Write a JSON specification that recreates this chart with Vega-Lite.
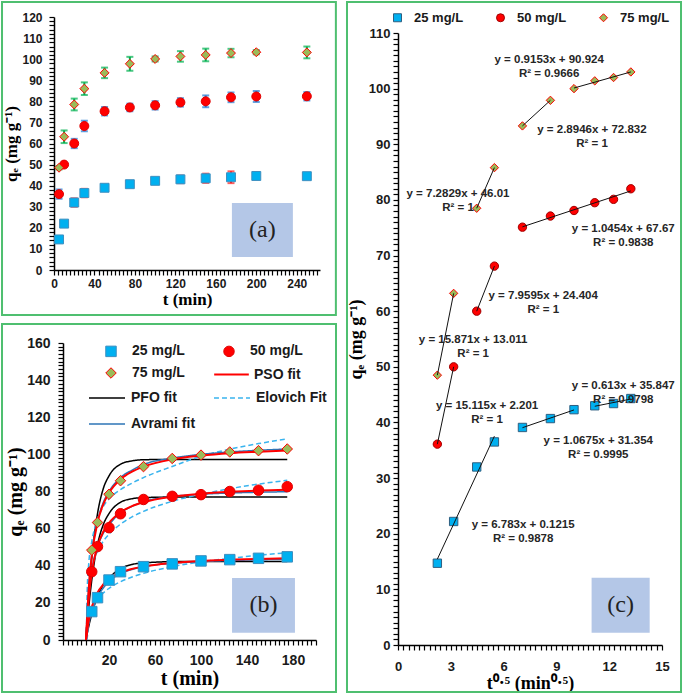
{
"$schema": "https://vega.github.io/schema/vega-lite/v6.json",
"width": 685, "height": 696,
"autosize": {"type": "none"},
"padding": 0,
"background": "white",
"config": {
  "view": {"stroke": null},
  "axis": {"grid": false, "domainColor": "#000", "domainWidth": 1.5, "tickColor": "#000", "tickSize": 5, "tickWidth": 1.2,
    "labelFont": "Liberation Sans", "labelFontWeight": "bold", "labelColor": "#1a1a1a",
    "titleFont": "Liberation Serif", "titleFontWeight": "bold", "titleColor": "#000",
    "labelOverlap": false, "labelFlush": false, "labelBound": false},
  "legend": {"labelFont": "Liberation Sans", "labelFontWeight": "bold", "labelColor": "#1a1a1a", "padding": 0},
  "text": {"font": "Liberation Sans"}
},
"datasets": {
  "kinetics": [
    {"conc": "25 mg/L", "t": 5, "q": 14.5, "err": 1.5}, {"conc": "25 mg/L", "t": 10, "q": 22, "err": 0.8}, {"conc": "25 mg/L", "t": 20, "q": 32, "err": 2}, {"conc": "25 mg/L", "t": 30, "q": 36.5, "err": 2}, {"conc": "25 mg/L", "t": 50, "q": 39, "err": 1}, {"conc": "25 mg/L", "t": 75, "q": 40.7, "err": 0.5}, {"conc": "25 mg/L", "t": 100, "q": 42.3, "err": 0.8}, {"conc": "25 mg/L", "t": 125, "q": 43, "err": 1.8}, {"conc": "25 mg/L", "t": 150, "q": 43.5, "err": 2.2}, {"conc": "25 mg/L", "t": 175, "q": 44, "err": 2.8}, {"conc": "25 mg/L", "t": 200, "q": 44.6, "err": 1}, {"conc": "25 mg/L", "t": 250, "q": 44.5, "err": 0.8},
    {"conc": "50 mg/L", "t": 5, "q": 36, "err": 2.2}, {"conc": "50 mg/L", "t": 10, "q": 50, "err": 1}, {"conc": "50 mg/L", "t": 20, "q": 60, "err": 2.2}, {"conc": "50 mg/L", "t": 30, "q": 68.3, "err": 2.5}, {"conc": "50 mg/L", "t": 50, "q": 75.3, "err": 2}, {"conc": "50 mg/L", "t": 75, "q": 77.1, "err": 1.8}, {"conc": "50 mg/L", "t": 100, "q": 78.1, "err": 2}, {"conc": "50 mg/L", "t": 125, "q": 79.5, "err": 2}, {"conc": "50 mg/L", "t": 150, "q": 80, "err": 2.8}, {"conc": "50 mg/L", "t": 175, "q": 81.9, "err": 2.3}, {"conc": "50 mg/L", "t": 200, "q": 82.3, "err": 2.6}, {"conc": "50 mg/L", "t": 250, "q": 82.4, "err": 2},
    {"conc": "75 mg/L", "t": 5, "q": 48.5, "err": 0.8}, {"conc": "75 mg/L", "t": 10, "q": 63.2, "err": 3}, {"conc": "75 mg/L", "t": 20, "q": 78.5, "err": 2.8}, {"conc": "75 mg/L", "t": 30, "q": 86, "err": 3}, {"conc": "75 mg/L", "t": 50, "q": 93.5, "err": 2.5}, {"conc": "75 mg/L", "t": 75, "q": 97.8, "err": 3.3}, {"conc": "75 mg/L", "t": 100, "q": 100.1, "err": 1.2}, {"conc": "75 mg/L", "t": 125, "q": 101.3, "err": 2.5}, {"conc": "75 mg/L", "t": 150, "q": 102, "err": 3}, {"conc": "75 mg/L", "t": 175, "q": 102.9, "err": 2}, {"conc": "75 mg/L", "t": 200, "q": 103.3, "err": 1}, {"conc": "75 mg/L", "t": 250, "q": 103.2, "err": 2.8}
  ],
  "fitPoints": [
    {"key": "25 mg/L", "t": 5, "q": 15.3}, {"key": "25 mg/L", "t": 10, "q": 22.8}, {"key": "25 mg/L", "t": 20, "q": 32.3}, {"key": "25 mg/L", "t": 30, "q": 36.8}, {"key": "25 mg/L", "t": 50, "q": 39.5}, {"key": "25 mg/L", "t": 75, "q": 41}, {"key": "25 mg/L", "t": 100, "q": 42.6}, {"key": "25 mg/L", "t": 125, "q": 43.3}, {"key": "25 mg/L", "t": 150, "q": 44}, {"key": "25 mg/L", "t": 175, "q": 44.8},
    {"key": "50 mg/L", "t": 5, "q": 36.8}, {"key": "50 mg/L", "t": 10, "q": 50.3}, {"key": "50 mg/L", "t": 20, "q": 60.5}, {"key": "50 mg/L", "t": 30, "q": 68}, {"key": "50 mg/L", "t": 50, "q": 75.7}, {"key": "50 mg/L", "t": 75, "q": 77.4}, {"key": "50 mg/L", "t": 100, "q": 78.3}, {"key": "50 mg/L", "t": 125, "q": 80}, {"key": "50 mg/L", "t": 150, "q": 80.7}, {"key": "50 mg/L", "t": 175, "q": 82.6},
    {"key": "75 mg/L", "t": 5, "q": 48.4}, {"key": "75 mg/L", "t": 10, "q": 63.3}, {"key": "75 mg/L", "t": 20, "q": 78.5}, {"key": "75 mg/L", "t": 30, "q": 85.8}, {"key": "75 mg/L", "t": 50, "q": 93.4}, {"key": "75 mg/L", "t": 75, "q": 97.8}, {"key": "75 mg/L", "t": 100, "q": 99.6}, {"key": "75 mg/L", "t": 125, "q": 101.3}, {"key": "75 mg/L", "t": 150, "q": 102}, {"key": "75 mg/L", "t": 175, "q": 102.9}
  ],
  "fits": [
    {"key": "PFO fit", "conc": "25", "t": 0, "q": 0}, {"key": "PFO fit", "conc": "25", "t": 2.5, "q": 7.7}, {"key": "PFO fit", "conc": "25", "t": 5, "q": 13.9}, {"key": "PFO fit", "conc": "25", "t": 10, "q": 23.3}, {"key": "PFO fit", "conc": "25", "t": 15, "q": 29.6}, {"key": "PFO fit", "conc": "25", "t": 20, "q": 33.3}, {"key": "PFO fit", "conc": "25", "t": 30, "q": 38.5}, {"key": "PFO fit", "conc": "25", "t": 40, "q": 40.7}, {"key": "PFO fit", "conc": "25", "t": 50, "q": 41.5}, {"key": "PFO fit", "conc": "25", "t": 75, "q": 42.2}, {"key": "PFO fit", "conc": "25", "t": 100, "q": 42.3}, {"key": "PFO fit", "conc": "25", "t": 175, "q": 42.3},
    {"key": "PFO fit", "conc": "50", "t": 0, "q": 0}, {"key": "PFO fit", "conc": "50", "t": 2.5, "q": 18.3}, {"key": "PFO fit", "conc": "50", "t": 5, "q": 32.1}, {"key": "PFO fit", "conc": "50", "t": 10, "q": 51.3}, {"key": "PFO fit", "conc": "50", "t": 15, "q": 62.1}, {"key": "PFO fit", "conc": "50", "t": 20, "q": 68.1}, {"key": "PFO fit", "conc": "50", "t": 30, "q": 74.2}, {"key": "PFO fit", "conc": "50", "t": 40, "q": 76.1}, {"key": "PFO fit", "conc": "50", "t": 50, "q": 76.7}, {"key": "PFO fit", "conc": "50", "t": 75, "q": 77}, {"key": "PFO fit", "conc": "50", "t": 100, "q": 77}, {"key": "PFO fit", "conc": "50", "t": 175, "q": 77},
    {"key": "PFO fit", "conc": "75", "t": 0, "q": 0}, {"key": "PFO fit", "conc": "75", "t": 2.5, "q": 25.3}, {"key": "PFO fit", "conc": "75", "t": 5, "q": 44}, {"key": "PFO fit", "conc": "75", "t": 10, "q": 68}, {"key": "PFO fit", "conc": "75", "t": 15, "q": 81.5}, {"key": "PFO fit", "conc": "75", "t": 20, "q": 88.4}, {"key": "PFO fit", "conc": "75", "t": 30, "q": 94.7}, {"key": "PFO fit", "conc": "75", "t": 40, "q": 96.5}, {"key": "PFO fit", "conc": "75", "t": 50, "q": 97.1}, {"key": "PFO fit", "conc": "75", "t": 75, "q": 97.3}, {"key": "PFO fit", "conc": "75", "t": 100, "q": 97.3}, {"key": "PFO fit", "conc": "75", "t": 175, "q": 97.3},
    {"key": "Elovich Fit", "conc": "25", "t": 0.9, "q": 0}, {"key": "Elovich Fit", "conc": "25", "t": 2.5, "q": 9.4}, {"key": "Elovich Fit", "conc": "25", "t": 5, "q": 15.5}, {"key": "Elovich Fit", "conc": "25", "t": 10, "q": 21.7}, {"key": "Elovich Fit", "conc": "25", "t": 15, "q": 25.3}, {"key": "Elovich Fit", "conc": "25", "t": 20, "q": 27.8}, {"key": "Elovich Fit", "conc": "25", "t": 30, "q": 31.4}, {"key": "Elovich Fit", "conc": "25", "t": 40, "q": 33.9}, {"key": "Elovich Fit", "conc": "25", "t": 50, "q": 35.9}, {"key": "Elovich Fit", "conc": "25", "t": 75, "q": 39.5}, {"key": "Elovich Fit", "conc": "25", "t": 100, "q": 42.1}, {"key": "Elovich Fit", "conc": "25", "t": 125, "q": 44}, {"key": "Elovich Fit", "conc": "25", "t": 150, "q": 45.6}, {"key": "Elovich Fit", "conc": "25", "t": 175, "q": 47},
    {"key": "Elovich Fit", "conc": "50", "t": 0.3, "q": 0}, {"key": "Elovich Fit", "conc": "50", "t": 1, "q": 17}, {"key": "Elovich Fit", "conc": "50", "t": 2.5, "q": 29.2}, {"key": "Elovich Fit", "conc": "50", "t": 5, "q": 38.5}, {"key": "Elovich Fit", "conc": "50", "t": 10, "q": 47.7}, {"key": "Elovich Fit", "conc": "50", "t": 15, "q": 53.2}, {"key": "Elovich Fit", "conc": "50", "t": 20, "q": 57}, {"key": "Elovich Fit", "conc": "50", "t": 30, "q": 62.4}, {"key": "Elovich Fit", "conc": "50", "t": 40, "q": 66.3}, {"key": "Elovich Fit", "conc": "50", "t": 50, "q": 69.3}, {"key": "Elovich Fit", "conc": "50", "t": 75, "q": 74.7}, {"key": "Elovich Fit", "conc": "50", "t": 100, "q": 78.5}, {"key": "Elovich Fit", "conc": "50", "t": 125, "q": 81.5}, {"key": "Elovich Fit", "conc": "50", "t": 150, "q": 84}, {"key": "Elovich Fit", "conc": "50", "t": 175, "q": 86},
    {"key": "Elovich Fit", "conc": "75", "t": 0.3, "q": 0}, {"key": "Elovich Fit", "conc": "75", "t": 1, "q": 26}, {"key": "Elovich Fit", "conc": "75", "t": 2.5, "q": 42}, {"key": "Elovich Fit", "conc": "75", "t": 5, "q": 53}, {"key": "Elovich Fit", "conc": "75", "t": 10, "q": 65}, {"key": "Elovich Fit", "conc": "75", "t": 15, "q": 72}, {"key": "Elovich Fit", "conc": "75", "t": 20, "q": 76}, {"key": "Elovich Fit", "conc": "75", "t": 30, "q": 81}, {"key": "Elovich Fit", "conc": "75", "t": 40, "q": 84.5}, {"key": "Elovich Fit", "conc": "75", "t": 50, "q": 87.5}, {"key": "Elovich Fit", "conc": "75", "t": 75, "q": 93.5}, {"key": "Elovich Fit", "conc": "75", "t": 100, "q": 99}, {"key": "Elovich Fit", "conc": "75", "t": 125, "q": 102.8}, {"key": "Elovich Fit", "conc": "75", "t": 150, "q": 105.8}, {"key": "Elovich Fit", "conc": "75", "t": 175, "q": 108.3},
    {"key": "PSO fit", "conc": "25", "t": 0, "q": 0}, {"key": "PSO fit", "conc": "25", "t": 2.5, "q": 10.9}, {"key": "PSO fit", "conc": "25", "t": 5, "q": 17.6}, {"key": "PSO fit", "conc": "25", "t": 10, "q": 25.5}, {"key": "PSO fit", "conc": "25", "t": 15, "q": 29.9}, {"key": "PSO fit", "conc": "25", "t": 20, "q": 32.8}, {"key": "PSO fit", "conc": "25", "t": 30, "q": 36.3}, {"key": "PSO fit", "conc": "25", "t": 40, "q": 38.3}, {"key": "PSO fit", "conc": "25", "t": 50, "q": 39.6}, {"key": "PSO fit", "conc": "25", "t": 75, "q": 41.5}, {"key": "PSO fit", "conc": "25", "t": 100, "q": 42.6}, {"key": "PSO fit", "conc": "25", "t": 125, "q": 43.2}, {"key": "PSO fit", "conc": "25", "t": 150, "q": 43.7}, {"key": "PSO fit", "conc": "25", "t": 175, "q": 44},
    {"key": "PSO fit", "conc": "50", "t": 0, "q": 0}, {"key": "PSO fit", "conc": "50", "t": 2.5, "q": 23}, {"key": "PSO fit", "conc": "50", "t": 5, "q": 36.2}, {"key": "PSO fit", "conc": "50", "t": 10, "q": 50.6}, {"key": "PSO fit", "conc": "50", "t": 15, "q": 58.3}, {"key": "PSO fit", "conc": "50", "t": 20, "q": 63.1}, {"key": "PSO fit", "conc": "50", "t": 30, "q": 68.8}, {"key": "PSO fit", "conc": "50", "t": 40, "q": 72.1}, {"key": "PSO fit", "conc": "50", "t": 50, "q": 74.2}, {"key": "PSO fit", "conc": "50", "t": 75, "q": 77.2}, {"key": "PSO fit", "conc": "50", "t": 100, "q": 78.8}, {"key": "PSO fit", "conc": "50", "t": 125, "q": 79.8}, {"key": "PSO fit", "conc": "50", "t": 150, "q": 80.5}, {"key": "PSO fit", "conc": "50", "t": 175, "q": 80.9},
    {"key": "PSO fit", "conc": "75", "t": 0, "q": 0}, {"key": "PSO fit", "conc": "75", "t": 2.5, "q": 28.7}, {"key": "PSO fit", "conc": "75", "t": 5, "q": 45.2}, {"key": "PSO fit", "conc": "75", "t": 10, "q": 63.3}, {"key": "PSO fit", "conc": "75", "t": 15, "q": 73.1}, {"key": "PSO fit", "conc": "75", "t": 20, "q": 79.3}, {"key": "PSO fit", "conc": "75", "t": 30, "q": 86.6}, {"key": "PSO fit", "conc": "75", "t": 40, "q": 90.7}, {"key": "PSO fit", "conc": "75", "t": 50, "q": 93.4}, {"key": "PSO fit", "conc": "75", "t": 75, "q": 97.3}, {"key": "PSO fit", "conc": "75", "t": 100, "q": 99.3}, {"key": "PSO fit", "conc": "75", "t": 125, "q": 100.6}, {"key": "PSO fit", "conc": "75", "t": 150, "q": 101.4}, {"key": "PSO fit", "conc": "75", "t": 175, "q": 102.1},
    {"key": "Avrami fit", "conc": "25", "t": 0, "q": 0}, {"key": "Avrami fit", "conc": "25", "t": 2.5, "q": 9}, {"key": "Avrami fit", "conc": "25", "t": 5, "q": 15}, {"key": "Avrami fit", "conc": "25", "t": 10, "q": 23}, {"key": "Avrami fit", "conc": "25", "t": 15, "q": 28}, {"key": "Avrami fit", "conc": "25", "t": 20, "q": 31.5}, {"key": "Avrami fit", "conc": "25", "t": 30, "q": 35.8}, {"key": "Avrami fit", "conc": "25", "t": 40, "q": 38}, {"key": "Avrami fit", "conc": "25", "t": 50, "q": 39.5}, {"key": "Avrami fit", "conc": "25", "t": 75, "q": 41.3}, {"key": "Avrami fit", "conc": "25", "t": 100, "q": 42.2}, {"key": "Avrami fit", "conc": "25", "t": 125, "q": 42.8}, {"key": "Avrami fit", "conc": "25", "t": 150, "q": 43.2}, {"key": "Avrami fit", "conc": "25", "t": 175, "q": 43.5},
    {"key": "Avrami fit", "conc": "50", "t": 0, "q": 0}, {"key": "Avrami fit", "conc": "50", "t": 2.5, "q": 24}, {"key": "Avrami fit", "conc": "50", "t": 5, "q": 37}, {"key": "Avrami fit", "conc": "50", "t": 10, "q": 50}, {"key": "Avrami fit", "conc": "50", "t": 15, "q": 57.5}, {"key": "Avrami fit", "conc": "50", "t": 20, "q": 62}, {"key": "Avrami fit", "conc": "50", "t": 30, "q": 68.5}, {"key": "Avrami fit", "conc": "50", "t": 40, "q": 72}, {"key": "Avrami fit", "conc": "50", "t": 50, "q": 74.5}, {"key": "Avrami fit", "conc": "50", "t": 75, "q": 77.3}, {"key": "Avrami fit", "conc": "50", "t": 100, "q": 78.5}, {"key": "Avrami fit", "conc": "50", "t": 125, "q": 79.2}, {"key": "Avrami fit", "conc": "50", "t": 150, "q": 79.6}, {"key": "Avrami fit", "conc": "50", "t": 175, "q": 79.9},
    {"key": "Avrami fit", "conc": "75", "t": 0, "q": 0}, {"key": "Avrami fit", "conc": "75", "t": 2.5, "q": 29}, {"key": "Avrami fit", "conc": "75", "t": 5, "q": 46}, {"key": "Avrami fit", "conc": "75", "t": 10, "q": 64}, {"key": "Avrami fit", "conc": "75", "t": 15, "q": 74}, {"key": "Avrami fit", "conc": "75", "t": 20, "q": 80}, {"key": "Avrami fit", "conc": "75", "t": 30, "q": 87.5}, {"key": "Avrami fit", "conc": "75", "t": 40, "q": 91.5}, {"key": "Avrami fit", "conc": "75", "t": 50, "q": 94.5}, {"key": "Avrami fit", "conc": "75", "t": 75, "q": 98}, {"key": "Avrami fit", "conc": "75", "t": 100, "q": 100}, {"key": "Avrami fit", "conc": "75", "t": 125, "q": 101.3}, {"key": "Avrami fit", "conc": "75", "t": 150, "q": 102.2}, {"key": "Avrami fit", "conc": "75", "t": 175, "q": 102.9}
  ],
  "ipd": [
    {"conc": "25 mg/L", "seg": "25a", "x": 2.236, "q": 14.7}, {"conc": "25 mg/L", "seg": "25a", "x": 3.162, "q": 22.2}, {"conc": "25 mg/L", "seg": "25a", "x": 4.472, "q": 32}, {"conc": "25 mg/L", "seg": "25a", "x": 5.477, "q": 36.5},
    {"conc": "25 mg/L", "seg": "25b", "x": 7.071, "q": 39.1}, {"conc": "25 mg/L", "seg": "25b", "x": 8.66, "q": 40.7}, {"conc": "25 mg/L", "seg": "25b", "x": 10, "q": 42.3},
    {"conc": "25 mg/L", "seg": "25c", "x": 11.18, "q": 43}, {"conc": "25 mg/L", "seg": "25c", "x": 12.247, "q": 43.4}, {"conc": "25 mg/L", "seg": "25c", "x": 13.229, "q": 44.3},
    {"conc": "50 mg/L", "seg": "50a", "x": 2.236, "q": 36.1}, {"conc": "50 mg/L", "seg": "50a", "x": 3.162, "q": 50},
    {"conc": "50 mg/L", "seg": "50b", "x": 4.472, "q": 60}, {"conc": "50 mg/L", "seg": "50b", "x": 5.477, "q": 68.1},
    {"conc": "50 mg/L", "seg": "50c", "x": 7.071, "q": 75.1}, {"conc": "50 mg/L", "seg": "50c", "x": 8.66, "q": 77.1}, {"conc": "50 mg/L", "seg": "50c", "x": 10, "q": 78.1}, {"conc": "50 mg/L", "seg": "50c", "x": 11.18, "q": 79.5}, {"conc": "50 mg/L", "seg": "50c", "x": 12.247, "q": 80.1}, {"conc": "50 mg/L", "seg": "50c", "x": 13.229, "q": 82},
    {"conc": "75 mg/L", "seg": "75a", "x": 2.236, "q": 48.5}, {"conc": "75 mg/L", "seg": "75a", "x": 3.162, "q": 63.2},
    {"conc": "75 mg/L", "seg": "75b", "x": 4.472, "q": 78.5}, {"conc": "75 mg/L", "seg": "75b", "x": 5.477, "q": 85.8},
    {"conc": "75 mg/L", "seg": "75c", "x": 7.071, "q": 93.3}, {"conc": "75 mg/L", "seg": "75c", "x": 8.66, "q": 97.9},
    {"conc": "75 mg/L", "seg": "75d", "x": 10, "q": 100}, {"conc": "75 mg/L", "seg": "75d", "x": 11.18, "q": 101.4}, {"conc": "75 mg/L", "seg": "75d", "x": 12.247, "q": 102}, {"conc": "75 mg/L", "seg": "75d", "x": 13.229, "q": 103}
  ],
  "eqs": [
    {"x": 8.59, "y": 105.15, "label": "y = 0.9153x + 90.924\nR² = 0.9666"},
    {"x": 11.02, "y": 92.6, "label": "y = 2.8946x + 72.832\nR² = 1"},
    {"x": 3.41, "y": 81.15, "label": "y = 7.2829x + 46.01\nR² = 1"},
    {"x": 12.8, "y": 74.85, "label": "y = 1.0454x + 67.67\nR² = 0.9838"},
    {"x": 8.25, "y": 62.75, "label": "y = 7.9595x + 24.404\nR² = 1"},
    {"x": 4.27, "y": 54.85, "label": "y = 15.871x + 13.011\nR² = 1"},
    {"x": 5.06, "y": 42.9, "label": "y = 15.115x + 2.201\nR² = 1"},
    {"x": 12.8, "y": 46.55, "label": "y = 0.613x + 35.847\nR² = 0.9798"},
    {"x": 11.38, "y": 36.6, "label": "y = 1.0675x + 31.354\nR² = 0.9995"},
    {"x": 7.11, "y": 21.6, "label": "y = 6.783x + 0.1215\nR² = 0.9878"}
  ]
},
"layer": [
  {
    "layer": [
      {
        "data": {"name": "kinetics"},
        "mark": {"type": "errorbar", "ticks": true, "thickness": 2, "size": 7},
        "encoding": {
          "x": {"field": "t", "type": "quantitative", "scale": {"domain": [0, 263], "range": [54, 320], "nice": false, "zero": false},
            "axis": {"title": "t (min)", "orient": "bottom", "offset": -426, "values": [0,4,8,12,16,20,24,28,32,36,40,44,48,52,56,60,64,68,72,76,80,84,88,92,96,100,104,108,112,116,120,124,128,132,136,140,144,148,152,156,160,164,168,172,176,180,184,188,192,196,200,204,208,212,216,220,224,228,232,236,240,244,248,252,256,260],
              "labelExpr": "abs(datum.value / 40 - round(datum.value / 40)) < 0.001 && datum.value <= 240 ? format(datum.value, 'd') : ''", "tickCount": 1000, "ticks": true, "tickSize": 5, "labelOverlap": false, "labelFontSize": 12, "labelPadding": 3, "titleFontSize": 17, "titlePadding": 2}},
          "y": {"field": "q", "type": "quantitative", "scale": {"domain": [0, 120], "range": [270, 17], "nice": false, "zero": false},
            "axis": {"title": "qₑ (mg g⁻¹)", "orient": "left", "offset": -54, "values": [0,2,4,6,8,10,12,14,16,18,20,22,24,26,28,30,32,34,36,38,40,42,44,46,48,50,52,54,56,58,60,62,64,66,68,70,72,74,76,78,80,82,84,86,88,90,92,94,96,98,100,102,104,106,108,110,112,114,116,118,120],
              "labelExpr": "abs(datum.value / 10 - round(datum.value / 10)) < 0.001 ? format(datum.value, 'd') : ''", "tickCount": 1000, "ticks": true, "tickSize": 5, "labelOverlap": false, "labelFontSize": 12, "labelPadding": 7, "titleFontSize": 17, "titlePadding": 1}},
          "yError": {"field": "err"},
          "color": {"field": "conc", "type": "nominal", "scale": {"domain": ["25 mg/L", "50 mg/L", "75 mg/L"], "range": ["#ff1a1a", "#1f78d1", "#00b050"]}, "legend": null}
        }
      },
      {
        "data": {"name": "kinetics"},
        "mark": {"type": "point", "filled": true, "size": 80, "strokeWidth": 1, "opacity": 1},
        "encoding": {
          "x": {"field": "t", "type": "quantitative"},
          "y": {"field": "q", "type": "quantitative"},
          "shape": {"field": "conc", "type": "nominal", "scale": {"domain": ["25 mg/L", "50 mg/L", "75 mg/L"], "range": ["square", "circle", "diamond"]},
            "legend": {"title": null, "orient": "none", "legendX": 76, "legendY": 14, "direction": "horizontal", "labelFontSize": 12, "symbolSize": 72, "labelOffset": 8, "columnPadding": 22, "symbolStrokeWidth": 1}},
          "fill": {"field": "conc", "type": "nominal", "scale": {"domain": ["25 mg/L", "50 mg/L", "75 mg/L"], "range": ["#00b0f0", "#ff0000", "#9bbb59"]}},
          "stroke": {"field": "conc", "type": "nominal", "scale": {"domain": ["25 mg/L", "50 mg/L", "75 mg/L"], "range": ["#3d8fc0", "#e00000", "#ff0000"]}}
        }
      },
      {
        "data": {"values": [{}]},
        "mark": {"type": "rect", "color": "#b4c7e7"},
        "encoding": {"x": {"datum": 175.9, "type": "quantitative"}, "x2": {"datum": 236.2}, "y": {"datum": 6.2, "type": "quantitative"}, "y2": {"datum": 31.8}}
      },
      {
        "data": {"values": [{"label": "(a)"}]},
        "mark": {"type": "text", "font": "Liberation Serif", "fontSize": 24, "color": "#222", "align": "center", "baseline": "middle"},
        "encoding": {"x": {"datum": 206, "type": "quantitative"}, "y": {"datum": 19, "type": "quantitative"}, "text": {"field": "label"}}
      },
      {
        "data": {"values": [{}]},
        "mark": {"type": "rect", "fill": null, "stroke": "#4fbf70", "strokeWidth": 2, "clip": false},
        "encoding": {"x": {"datum": -51.4, "type": "quantitative"}, "x2": {"datum": 278.7}, "y": {"datum": 127.1, "type": "quantitative"}, "y2": {"datum": -21.35}}
      }
    ]
  },
  {
    "layer": [
      {
        "data": {"name": "fits"},
        "transform": [{"filter": "datum.key !== 'PSO fit'"}],
        "mark": {"type": "line", "interpolate": "monotone", "strokeWidth": 1.5},
        "encoding": {
          "x": {"field": "t", "type": "quantitative", "scale": {"domain": [-20, 200], "range": [63, 316], "nice": false, "zero": false},
            "axis": {"title": "t (min)", "orient": "bottom", "offset": -56, "values": [-20,-16,-12,-8,-4,0,4,8,12,16,20,24,28,32,36,40,44,48,52,56,60,64,68,72,76,80,84,88,92,96,100,104,108,112,116,120,124,128,132,136,140,144,148,152,156,160,164,168,172,176,180,184,188,192,196,200],
              "labelExpr": "abs((datum.value + 20) / 40 - round((datum.value + 20) / 40)) < 0.001 && datum.value > 0 ? format(datum.value, 'd') : ''", "tickCount": 1000, "ticks": true, "tickSize": 5, "labelOverlap": false, "labelFontSize": 14, "labelPadding": 8, "titleFontSize": 20, "titlePadding": 1}},
          "y": {"field": "q", "type": "quantitative", "scale": {"domain": [0, 160], "range": [640, 343], "nice": false, "zero": false},
            "axis": {"title": "qₑ (mg g⁻¹)", "orient": "left", "offset": -63, "values": [0,2,4,6,8,10,12,14,16,18,20,22,24,26,28,30,32,34,36,38,40,42,44,46,48,50,52,54,56,58,60,62,64,66,68,70,72,74,76,78,80,82,84,86,88,90,92,94,96,98,100,102,104,106,108,110,112,114,116,118,120,122,124,126,128,130,132,134,136,138,140,142,144,146,148,150,152,154,156,158,160],
              "labelExpr": "abs(datum.value / 20 - round(datum.value / 20)) < 0.001 ? format(datum.value, 'd') : ''", "tickCount": 1000, "ticks": true, "tickSize": 5, "labelOverlap": false, "labelFontSize": 14, "labelPadding": 8, "titleFontSize": 20, "titlePadding": 1}},
          "detail": {"field": "conc"},
          "stroke": {"field": "key", "type": "nominal", "scale": {"domain": ["PFO fit", "Avrami fit", "Elovich Fit"], "range": ["#000000", "#2e75b6", "#3ab4ee"]},
            "legend": {"title": null, "orient": "none", "legendX": 88, "legendY": 379, "columns": 2, "columnPadding": 14, "rowPadding": -13, "symbolSize": 1300, "labelOffset": 5, "labelFontSize": 14, "symbolStrokeWidth": 1.5}},
          "strokeDash": {"field": "key", "type": "nominal", "scale": {"domain": ["PFO fit", "Avrami fit", "Elovich Fit"], "range": [[1,0],[1,0],[5,3]]}}
        }
      },
      {
        "data": {"name": "fits"},
        "transform": [{"filter": "datum.key === 'PSO fit'"}],
        "mark": {"type": "line", "interpolate": "monotone", "strokeWidth": 2},
        "encoding": {
          "x": {"field": "t", "type": "quantitative"},
          "y": {"field": "q", "type": "quantitative"},
          "detail": {"field": "conc"},
          "stroke": {"field": "key", "type": "nominal", "scale": {"domain": ["PSO fit"], "range": ["#ff0000"]},
            "legend": {"title": null, "orient": "none", "legendX": 213, "legendY": 356, "symbolSize": 1200, "labelOffset": 4, "labelFontSize": 14, "symbolStrokeWidth": 2}}
        }
      },
      {
        "data": {"name": "fitPoints"},
        "mark": {"type": "point", "filled": true, "size": 110, "strokeWidth": 1, "opacity": 1},
        "encoding": {
          "x": {"field": "t", "type": "quantitative"},
          "y": {"field": "q", "type": "quantitative"},
          "shape": {"field": "key", "type": "nominal", "scale": {"domain": ["25 mg/L", "75 mg/L", "50 mg/L"], "range": ["square", "diamond", "circle"]},
            "legend": {"title": null, "orient": "none", "legendX": 104, "legendY": 344, "columns": 2, "columnPadding": 36, "rowPadding": 6, "labelFontSize": 14, "symbolSize": 110, "labelOffset": 14, "symbolStrokeWidth": 1}},
          "fill": {"field": "key", "type": "nominal", "scale": {"domain": ["25 mg/L", "75 mg/L", "50 mg/L"], "range": ["#00b0f0", "#9bbb59", "#ff0000"]}},
          "stroke": {"field": "key", "type": "nominal", "scale": {"domain": ["25 mg/L", "75 mg/L", "50 mg/L"], "range": ["#3d8fc0", "#ff0000", "#e00000"]}}
        }
      },
      {
        "data": {"values": [{}]},
        "mark": {"type": "rect", "color": "#b4c7e7"},
        "encoding": {"x": {"datum": 127.0, "type": "quantitative"}, "x2": {"datum": 181.7}, "y": {"datum": 3.9, "type": "quantitative"}, "y2": {"datum": 33.4}}
      },
      {
        "data": {"values": [{"label": "(b)"}]},
        "mark": {"type": "text", "font": "Liberation Serif", "fontSize": 24, "color": "#222", "align": "center", "baseline": "middle"},
        "encoding": {"x": {"datum": 154.4, "type": "quantitative"}, "y": {"datum": 18.6, "type": "quantitative"}, "text": {"field": "label"}}
      },
      {
        "data": {"values": [{}]},
        "mark": {"type": "rect", "fill": null, "stroke": "#4fbf70", "strokeWidth": 2, "clip": false},
        "encoding": {"x": {"datum": -73.04, "type": "quantitative"}, "x2": {"datum": 217.4}, "y": {"datum": 170.2, "type": "quantitative"}, "y2": {"datum": -28}}
      }
    ],
    "resolve": {"scale": {"stroke": "independent", "strokeDash": "independent", "shape": "independent", "fill": "independent"}}
  },
  {
    "layer": [
      {
        "data": {"name": "ipd"},
        "mark": {"type": "point", "filled": true, "size": 70, "strokeWidth": 1, "opacity": 1},
        "encoding": {
          "x": {"field": "x", "type": "quantitative", "scale": {"domain": [0, 15], "range": [398, 662], "nice": false, "zero": false},
            "axis": {"title": "t⁰·⁵ (min⁰·⁵)", "orient": "bottom", "offset": -51, "values": [0,0.3,0.6,0.9,1.2,1.5,1.8,2.1,2.4,2.7,3,3.3,3.6,3.9,4.2,4.5,4.8,5.1,5.4,5.7,6,6.3,6.6,6.9,7.2,7.5,7.8,8.1,8.4,8.7,9,9.3,9.6,9.9,10.2,10.5,10.8,11.1,11.4,11.7,12,12.3,12.6,12.9,13.2,13.5,13.8,14.1,14.4,14.7,15],
              "labelExpr": "abs(datum.value / 3 - round(datum.value / 3)) < 0.001 ? format(round(datum.value), 'd') : ''", "tickCount": 1000, "ticks": true, "tickSize": 5, "labelOverlap": false, "labelFontSize": 13, "labelPadding": 10, "titleFontSize": 18, "titlePadding": 1}},
          "y": {"field": "q", "type": "quantitative", "scale": {"domain": [0, 110], "range": [645, 33], "nice": false, "zero": false},
            "axis": {"title": "qₑ (mg g⁻¹)", "orient": "left", "offset": -398, "values": [0,1,2,3,4,5,6,7,8,9,10,11,12,13,14,15,16,17,18,19,20,21,22,23,24,25,26,27,28,29,30,31,32,33,34,35,36,37,38,39,40,41,42,43,44,45,46,47,48,49,50,51,52,53,54,55,56,57,58,59,60,61,62,63,64,65,66,67,68,69,70,71,72,73,74,75,76,77,78,79,80,81,82,83,84,85,86,87,88,89,90,91,92,93,94,95,96,97,98,99,100,101,102,103,104,105,106,107,108,109,110],
              "labelExpr": "abs(datum.value / 10 - round(datum.value / 10)) < 0.001 ? format(datum.value, 'd') : ''", "tickCount": 1000, "ticks": true, "tickSize": 5, "labelOverlap": false, "labelFontSize": 13, "labelPadding": 3, "titleFontSize": 18, "titlePadding": 3}},
          "shape": {"field": "conc", "type": "nominal", "scale": {"domain": ["25 mg/L", "50 mg/L", "75 mg/L"], "range": ["square", "circle", "diamond"]},
            "legend": {"title": null, "orient": "none", "legendX": 391, "legendY": 11, "direction": "horizontal", "labelFontSize": 13, "symbolSize": 64, "labelOffset": 10, "columnPadding": 30, "symbolStrokeWidth": 1}},
          "fill": {"field": "conc", "type": "nominal", "scale": {"domain": ["25 mg/L", "50 mg/L", "75 mg/L"], "range": ["#00b0f0", "#ff0000", "#9bbb59"]}},
          "stroke": {"field": "conc", "type": "nominal", "scale": {"domain": ["25 mg/L", "50 mg/L", "75 mg/L"], "range": ["#2f5f80", "#a00000", "#ff0000"]}}
        }
      },
      {
        "data": {"name": "ipd"},
        "transform": [{"regression": "q", "on": "x", "groupby": ["seg"]}],
        "mark": {"type": "line", "color": "#111", "strokeWidth": 1},
        "encoding": {
          "x": {"field": "x", "type": "quantitative"},
          "y": {"field": "q", "type": "quantitative"},
          "detail": {"field": "seg"}
        }
      },
      {
        "data": {"name": "eqs"},
        "mark": {"type": "text", "font": "Liberation Sans", "fontWeight": "bold", "fontSize": 11.5, "lineBreak": "\n", "lineHeight": 14, "align": "center", "baseline": "middle", "color": "#262626"},
        "encoding": {"x": {"field": "x", "type": "quantitative"}, "y": {"field": "y", "type": "quantitative"}, "text": {"field": "label"}}
      },
      {
        "data": {"values": [{}]},
        "mark": {"type": "rect", "color": "#b4c7e7"},
        "encoding": {"x": {"datum": 11.0, "type": "quantitative"}, "x2": {"datum": 14.3}, "y": {"datum": 2.2, "type": "quantitative"}, "y2": {"datum": 12.1}}
      },
      {
        "data": {"values": [{"label": "(c)"}]},
        "mark": {"type": "text", "font": "Liberation Serif", "fontSize": 24, "color": "#222", "align": "center", "baseline": "middle"},
        "encoding": {"x": {"datum": 12.65, "type": "quantitative"}, "y": {"datum": 7.15, "type": "quantitative"}, "text": {"field": "label"}}
      },
      {
        "data": {"values": [{}]},
        "mark": {"type": "rect", "fill": null, "stroke": "#4fbf70", "strokeWidth": 2, "clip": false},
        "encoding": {"x": {"datum": -2.898, "type": "quantitative"}, "x2": {"datum": 16.08}, "y": {"datum": 115.57, "type": "quantitative"}, "y2": {"datum": -8.45}}
      }
    ]
  }
],
"resolve": {
  "scale": {"x": "independent", "y": "independent", "shape": "independent", "fill": "independent", "stroke": "independent", "strokeDash": "independent", "color": "independent"},
  "axis": {"x": "independent", "y": "independent"},
  "legend": {"shape": "independent", "fill": "independent", "stroke": "independent", "strokeDash": "independent", "color": "independent"}
}
}
